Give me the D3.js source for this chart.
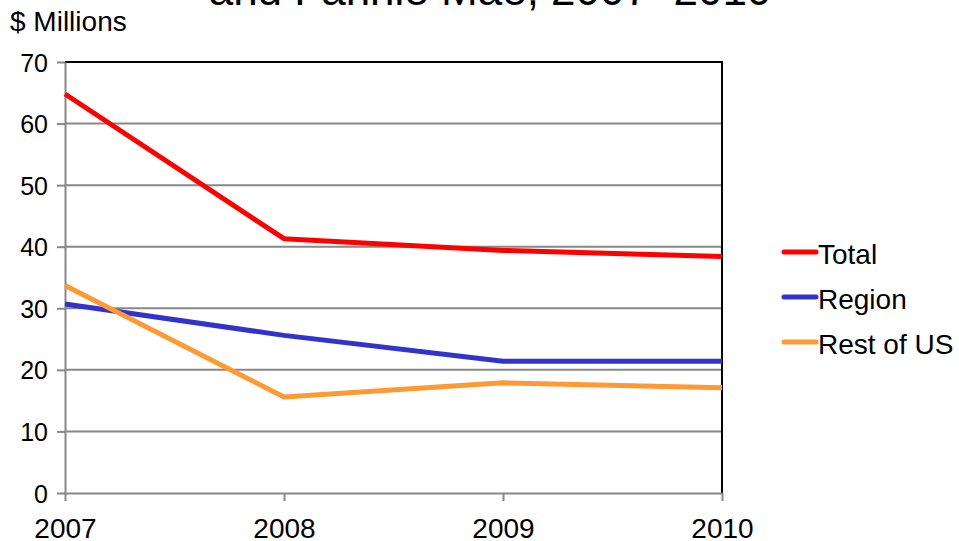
<!DOCTYPE html>
<html lang="en">
<head>
    <meta charset="UTF-8">
    <title>Fannie Mae, 2007-2010</title>
    <style>
        body {
            margin: 0;
            background: #fff;
        }
        svg {
            display: block;
            font-family: "Liberation Sans", Arial, sans-serif;
        }
        .grid line {
            stroke: #888;
            stroke-width: 2px;
        }
        .series {
            fill: none;
            stroke-width: 5px;
            stroke-linejoin: round;
        }
    </style>
</head>
<body>
<svg id="chart" width="959" height="541"></svg>

<script src="https://d3js.org/d3.v7.min.js"></script>
<script>
const years = ['2007', '2008', '2009', '2010'];
const yTicks = [0, 10, 20, 30, 40, 50, 60, 70];

const totalValues = [64.8, 41.3, 39.4, 38.4];
const regionValues = [30.7, 25.6, 21.4, 21.4];
const restValues = [33.7, 15.6, 17.9, 17.1];

const seriesNames = ['Total', 'Region', 'Rest of US'];
const seriesColors = ['#ff0000', '#3333cc', '#ff9933'];

const svg = d3.select('#chart');

const x = d3.scalePoint().domain(years).range([65, 722]);
const y = d3.scaleLinear().domain([0, 70]).range([493, 62]);

// title, cut at the top of the picture
svg.append('text')
    .attr('x', 490)
    .attr('y', 5)
    .attr('text-anchor', 'middle')
    .style('font-size', '44px')
    .text('and Fannie Mae, 2007\u20132010');

svg.append('text')
    .attr('x', 10)
    .attr('y', 31)
    .style('font-size', '28px')
    .text('$ Millions');

// gridlines
svg.append('g')
    .attr('class', 'grid')
    .selectAll('line')
    .data(yTicks.filter(d => d > 0 && d < 70))
    .enter().append('line')
    .attr('x1', 65)
    .attr('x2', 722)
    .attr('y1', d => y(d))
    .attr('y2', d => y(d));

// top and right border
svg.append('path')
    .attr('d', `M65,${y(70)}H722V${y(0)}`)
    .attr('fill', 'none')
    .attr('stroke', '#000')
    .attr('stroke-width', 2);

// y axis
const yAxis = svg.append('g')
    .attr('transform', 'translate(65,0)')
    .call(d3.axisLeft(y).tickValues(yTicks).tickSize(8).tickPadding(9).tickSizeOuter(0));
yAxis.select('.domain').attr('stroke', '#888').attr('stroke-width', 2);
yAxis.selectAll('.tick line').attr('stroke', '#888').attr('stroke-width', 2);
yAxis.selectAll('.tick text')
    .attr('fill', '#000')
    .style('font-size', '25px')
    .style('font-family', '"Liberation Sans", Arial, sans-serif')
    .attr('dy', '0.36em');

// x axis
const xAxis = svg.append('g')
    .attr('transform', `translate(0,${y(0)})`)
    .call(d3.axisBottom(x).tickSize(8).tickPadding(17).tickSizeOuter(0));
xAxis.select('.domain').attr('stroke', '#888').attr('stroke-width', 2);
xAxis.selectAll('.tick line').attr('stroke', '#888').attr('stroke-width', 2);
xAxis.selectAll('.tick text')
    .attr('fill', '#000')
    .style('font-size', '28px')
    .style('font-family', '"Liberation Sans", Arial, sans-serif');

// lines
const allValues = [totalValues, regionValues, restValues];
const line = d3.line()
    .x((d, i) => x(years[i]))
    .y(d => y(d));

svg.append('g')
    .selectAll('path')
    .data(allValues)
    .enter().append('path')
    .attr('class', 'series')
    .attr('stroke', (d, i) => seriesColors[i])
    .attr('d', line);

// legend
const legend = svg.append('g')
    .selectAll('g')
    .data(seriesNames)
    .enter().append('g')
    .attr('transform', (d, i) => `translate(782,${252 + i * 45})`);

legend.append('line')
    .attr('x1', 2)
    .attr('x2', 34)
    .attr('stroke', (d, i) => seriesColors[i])
    .attr('stroke-width', 5)
    .attr('stroke-linecap', 'round');

legend.append('text')
    .attr('x', 36)
    .attr('y', 12)
    .style('font-size', '28px')
    .text(d => d);
</script>
</body>
</html>
